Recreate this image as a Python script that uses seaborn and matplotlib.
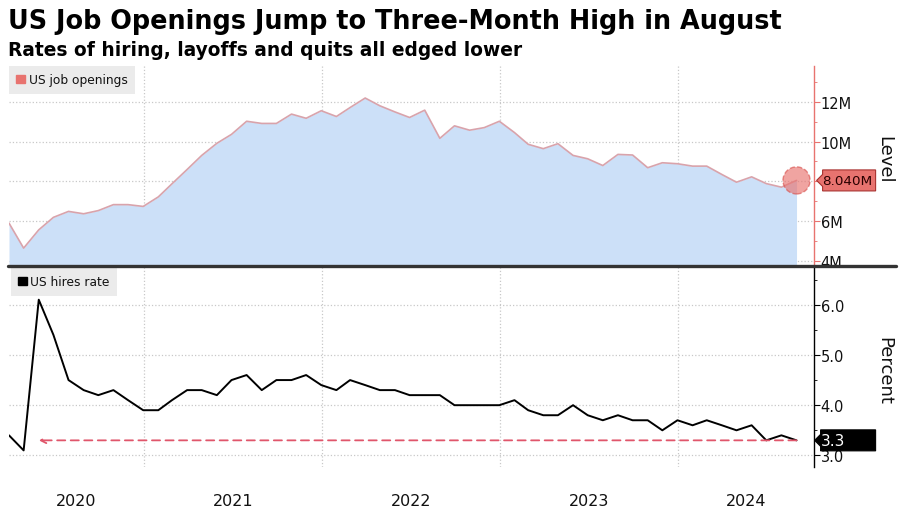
import matplotlib
matplotlib.use("Agg")
import matplotlib.pyplot as plt
import matplotlib.transforms as mtransforms
from matplotlib.patches import Patch, Polygon
from matplotlib.lines import Line2D
import seaborn as sns
import pandas as pd

# monthly data, Mar 2020 - Aug 2024 (plotted at month end)
months = pd.date_range("2020-03-31", "2024-08-31", freq="ME")

job_openings = [
    5.89, 4.63, 5.55, 6.18, 6.48, 6.36, 6.52, 6.82, 6.82, 6.73,
    7.21, 7.87, 8.59, 9.30, 9.91, 10.36, 11.02, 10.91, 10.91, 11.38, 11.17, 11.55,
    11.26, 11.71, 12.19, 11.80, 11.49, 11.21, 11.58, 10.16, 10.79, 10.57, 10.70, 11.02,
    10.45, 9.86, 9.64, 9.89, 9.30, 9.13, 8.79, 9.35, 9.32, 8.68, 8.93, 8.88,
    8.76, 8.76, 8.34, 7.95, 8.22, 7.88, 7.70, 8.04,
]
hires_rate = [
    3.4, 3.1, 6.1, 5.4, 4.5, 4.3, 4.2, 4.3, 4.1, 3.9,
    3.9, 4.1, 4.3, 4.3, 4.2, 4.5, 4.6, 4.3, 4.5, 4.5, 4.6, 4.4,
    4.3, 4.5, 4.4, 4.3, 4.3, 4.2, 4.2, 4.2, 4.0, 4.0, 4.0, 4.0,
    4.1, 3.9, 3.8, 3.8, 4.0, 3.8, 3.7, 3.8, 3.7, 3.7, 3.5, 3.7,
    3.6, 3.7, 3.6, 3.5, 3.6, 3.3, 3.4, 3.3,
]
years = ["2020", "2021", "2022", "2023", "2024"]

df = pd.DataFrame({"date": months, "openings": job_openings, "hires": hires_rate})

SALMON = "#e8736f"
PINKLINE = "#d9a3ab"
FILL = "#cce0f8"
GRID = "#c8c8c8"
INK = "#111111"

sns.set_style("white")
plt.rcParams["font.family"] = ["DejaVu Sans"]
plt.rcParams["text.color"] = INK

fig = plt.figure(figsize=(9, 5.1), dpi=100)
ax1 = fig.add_axes([0.010, 0.4765, 0.894, 0.392])
ax2 = fig.add_axes([0.010, 0.0824, 0.894, 0.394])

xmin, xmax = pd.Timestamp("2020-03-31"), pd.Timestamp("2024-10-05")
year_starts = [pd.Timestamp(f"{y}-01-01") for y in years[1:]]


def value_tag(ax, value, text, fc, ec, tc, tip, right, size):
    """Arrow-shaped tag just right of the axis, pointing at `value`."""
    anchor = mtransforms.blended_transform_factory(ax.transAxes, ax.transData)
    trans = mtransforms.Affine2D() + mtransforms.ScaledTranslation(1.0, value, anchor)
    h = 10.5
    verts = [(tip, 0), (tip + 6, 6), (tip + 6, h), (right, h), (right, -h),
             (tip + 6, -h), (tip + 6, -6)]
    ax.add_patch(Polygon(verts, closed=True, transform=trans, fc=fc, ec=ec, lw=0.8,
                         clip_on=False, zorder=6))
    ax.annotate(text, xy=(1.0, value), xycoords=anchor, xytext=(tip + 6, 0),
                textcoords="offset pixels", ha="left", va="center", fontsize=size,
                color=tc, zorder=7, annotation_clip=False)


# top panel: job openings
ax1.fill_between(df["date"], df["openings"], 0, color=FILL, lw=0)
sns.lineplot(data=df, x="date", y="openings", ax=ax1, color=PINKLINE, lw=1.2)
last = df.iloc[-1]
ax1.scatter([last["date"]], [last["openings"]], s=380, color=SALMON, alpha=0.65,
            edgecolors="#d9534f", linestyles="--", linewidths=1, zorder=5)
ax1.set_ylim(3.73, 13.8)
ax1.set_yticks([4, 6, 8, 10, 12])
ax1.set_yticklabels(["4M", "6M", "", "10M", "12M"])
ax1.set_yticks(range(4, 14), minor=True)
value_tag(ax1, last["openings"], f"{last['openings']:.3f}M", SALMON, "#a8322f",
          "#2a0000", 3, 62, 9.7)
ax1.legend(handles=[Patch(color=SALMON, label="US job openings")], loc="upper left",
           bbox_to_anchor=(0, 1), borderaxespad=0, frameon=True, fancybox=False,
           facecolor="#ebebeb", edgecolor="none", framealpha=1, fontsize=8.8,
           handlelength=0.7, handleheight=0.7, handletextpad=0.3, borderpad=0.6)

# bottom panel: hires rate
sns.lineplot(data=df, x="date", y="hires", ax=ax2, color="black", lw=1.4)
ax2.annotate("", xy=(df["date"][2], hires_rate[-1]), xytext=(last["date"], hires_rate[-1]),
             arrowprops=dict(arrowstyle="->", color="#e0566b", lw=1.3, linestyle=(0, (4.5, 3)),
                             shrinkA=0, shrinkB=0))
ax2.set_ylim(2.77, 6.77)
ax2.set_yticks([3, 4, 5, 6])
ax2.set_yticklabels(["3.0", "4.0", "5.0", "6.0"])
ax2.set_yticks([3, 3.5, 4, 4.5, 5, 5.5, 6, 6.5], minor=True)
value_tag(ax2, hires_rate[-1], f"{hires_rate[-1]:.1f}", "black", "black", "white", 1, 62, 11)
ax2.legend(handles=[Patch(color="black", label="US hires rate")], loc="upper left",
           bbox_to_anchor=(0, 1), borderaxespad=0.15, frameon=True, fancybox=False,
           facecolor="#ebebeb", edgecolor="none", framealpha=1, fontsize=8.8,
           handlelength=0.7, handleheight=0.7, handletextpad=0.3, borderpad=0.6)

# year labels centred on the visible part of each year
bounds = [xmin] + year_starts + [xmax]
mids = [bounds[i] + (bounds[i + 1] - bounds[i]) / 2 for i in range(len(years))]

for ax, spine_col, ylab, ypos in [(ax1, SALMON, "Level", 0.535), (ax2, "black", "Percent", 0.483)]:
    ax.set_xlim(xmin, xmax)
    ax.set_xlabel("")
    ax.set_ylabel("")
    for s in ["left", "top", "bottom"]:
        ax.spines[s].set_visible(False)
    ax.spines["right"].set_color(spine_col)
    ax.spines["right"].set_linewidth(1.0)
    ax.yaxis.tick_right()
    ax.tick_params(axis="y", which="major", direction="out", length=4, color=spine_col,
                   labelsize=10.5, labelcolor=INK, pad=1)
    ax.tick_params(axis="y", which="minor", direction="out", length=2.5, color=spine_col)
    ax.grid(axis="y", which="major", color=GRID, linestyle=":", lw=0.9)
    for d in year_starts:
        ax.axvline(d, color=GRID, linestyle=":", lw=0.9, zorder=0)
    ax.text(1.088, ypos, ylab, transform=ax.transAxes, rotation=270, ha="center",
            va="center", fontsize=13, color=INK)

ax1.set_xticks([])
ax2.set_xticks(mids)
ax2.set_xticklabels(years)
ax2.tick_params(axis="x", length=0, labelsize=11.5, labelcolor=INK, pad=19)

# dark separator between panels
fig.add_artist(Line2D([0.009, 0.995], [0.4765, 0.4765], color="#333333", lw=2.4,
                      transform=fig.transFigure))

fig.text(0.009, 0.957, "US Job Openings Jump to Three-Month High in August",
         fontsize=18.4, fontweight="bold", ha="left", va="center", color="black")
fig.text(0.009, 0.901, "Rates of hiring, layoffs and quits all edged lower",
         fontsize=13.4, fontweight="bold", ha="left", va="center", color="black")

fig.savefig("out.png", dpi=100)
